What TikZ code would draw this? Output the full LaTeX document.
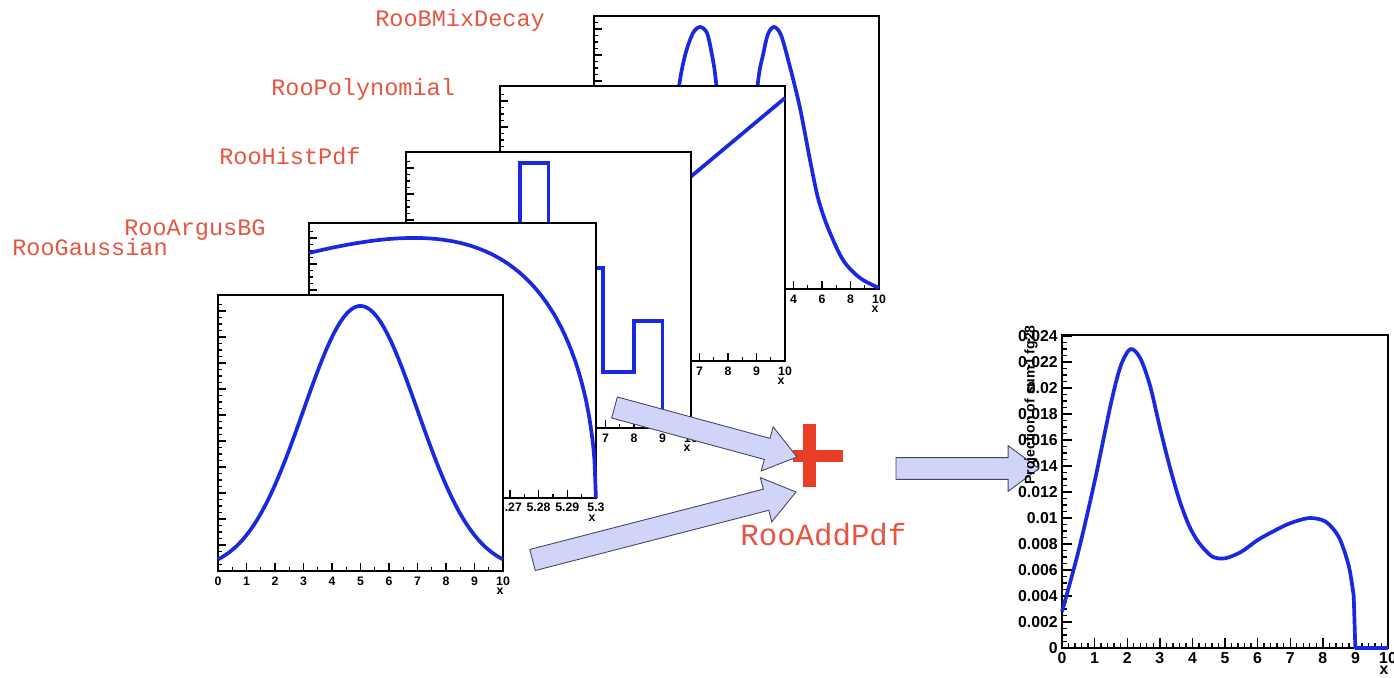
\documentclass[tikz,border=0pt]{standalone}
\usepackage{fontspec}
\setmainfont{Liberation Sans}
\newfontfamily\roofont{Liberation Mono}
\usetikzlibrary{calc, positioning}

\definecolor{roored}{RGB}{230,85,65}
\definecolor{plusred}{RGB}{232,62,38}
\definecolor{curveblue}{RGB}{25,40,225}
\definecolor{arrowfill}{RGB}{208,212,248}
\definecolor{arrowline}{RGB}{70,70,95}

\tikzset{
  frame/.style={line width=0.8pt, black},
  curve/.style={line width=2.1pt, curveblue, line join=round},
  pdfname/.style={font=\roofont\fontsize{13.4}{15}\selectfont, text=roored, inner sep=0pt, anchor=base west},
  ticklbl/.style={font=\bfseries\fontsize{7}{8}\selectfont, inner sep=0pt, anchor=north},
  axlbl/.style={font=\bfseries\fontsize{9}{10}\selectfont, inner sep=0pt},
  bigarrow/.style={fill=arrowfill, draw=arrowline, line width=0.5pt},
}

% white canvas, frame and ticks of one stacked plot
\newcommand\rooframe[4]{%
  \fill[white] (#1,#2) rectangle (#3,#4);
  \draw[frame] (#1,#2) rectangle (#3,#4);
  \foreach \k in {0,...,41} \draw[frame] (#1,{#4-6.5*\k}) -- ++(4,0);
  \foreach \k in {0,...,10} \draw[frame] (#1,{#4-26*\k}) -- ++(8,0);
  \foreach \k in {0,...,20} \draw[frame] ({#1+\k*(#3-#1)/20},#4) -- ++(0,-4);
  \foreach \k in {0,...,10} \draw[frame] ({#1+\k*(#3-#1)/10},#4) -- ++(0,-8);
}

% fat arrow from #1 to #2
\newcommand\blockarrow[2]{%
  \coordinate (neck) at ($(#2)!17.6pt!(#1)$);
  \filldraw[bigarrow] ($(#1)!6.2pt!90:(#2)$) -- ($(neck)!6.2pt!90:(#2)$)
    -- ($(neck)!13pt!90:(#2)$) -- (#2) -- ($(neck)!13pt!-90:(#2)$)
    -- ($(neck)!6.2pt!-90:(#2)$) -- ($(#1)!6.2pt!-90:(#2)$) -- cycle;
}

\begin{document}
\begin{tikzpicture}[x=0.02cm, y=-0.02cm,
  declare function={argu(\m)=max((10-\m)*(10.5+\m/100)/2809,0);}]
\useasboundingbox (0,0) rectangle (1394,678);

%RooBMixDecay
\rooframe{594}{16}{879}{289}
\draw[curve] plot[smooth] coordinates {(594,287) (625,282) (648,262) (662,215)
  (672,140) (680,80) (686,52) (693,33) (700,27) (707,33) (712,55) (716,82)
  (724,170) (737,230) (750,170) (758,82) (763,55) (768,34) (774,27) (781,35)
  (790,67) (800,108) (810,160) (818,198) (828,228) (843,260) (860,278) (879,288)};
\foreach \v [count=\k from 0] in {-10,-8,...,10}
  \node[ticklbl] (a\k) at (594+28.5*\k,295) {\v};
\node[ticklbl] (ax) at (875,306) {x};

%RooPolynomial
\rooframe{500}{86}{785}{361}
\draw[curve] (500,336) -- (785,98);
\foreach \v in {0,...,10}
  \node[ticklbl] (b\v) at (500+28.5*\v,367) {\v};
\node[ticklbl] (bx) at (781,378) {x};

%RooHistPdf
\rooframe{406}{152}{691}{428}
\draw[curve, line join=miter] (406,428) |- (434.5,400) |- (463,370) |- (491.5,330)
  |- (520,280) |- (548.5,163) |- (577,300) |- (603,268) |- (634,372)
  |- (662.5,321) |- (691,428);
\foreach \v in {0,...,10}
  \node[ticklbl] (c\v) at (406+28.5*\v,434) {\v};
\node[ticklbl] (cx) at (687,445) {x};

%RooArgusBG
\rooframe{309}{223}{596}{498}
\begin{scope}[shift={(309,498)}, x=0.574cm, y=0.02cm]
  \draw[curve] plot[domain=0:10, samples=200]
    (\x, {524.3*(5.2+\x/100)*sqrt(argu(\x))*exp(-20.5*argu(\x))});
\end{scope}
\foreach \v [count=\k from 0] in {5.2,5.21,5.22,5.23,5.24,5.25,5.26,5.27,5.28,5.29,5.3}
  \node[ticklbl] (d\k) at (309+28.7*\k,503) {\v};
\node[ticklbl] (dx) at (592,515) {x};

%RooGaussian
\rooframe{218}{295}{503}{571}
\begin{scope}[shift={(218,571)}, x=0.57cm, y=0.02cm]
  \draw[curve] plot[domain=0:10, samples=80] (\x,{265*exp(-(\x-5)^2/8)});
\end{scope}
\foreach \v in {0,...,10}
  \node[ticklbl] (e\v) at (218+28.5*\v,577) {\v};
\node[ticklbl] (ex) at (500,588) {x};

%names
\node[pdfname] (lblbmix) at (375,27) {RooBMixDecay};
\node[pdfname] (lblpoly) at (271,96) {RooPolynomial};
\node[pdfname] (lblhist) at (219,165) {RooHistPdf};
\node[pdfname] (lblargus) at (124,236) {RooArgusBG};
\node[pdfname] (lblgauss) at (12,256) {RooGaussian};

%sum
\coordinate (sum) at (809.5,456);
\fill[plusred] ($(sum)+(-6.5,-32)$) rectangle ($(sum)+(6.5,31)$);
\fill[plusred] ($(sum)+(-17,-6)$) rectangle ($(sum)+(33.5,6)$);
\node[pdfname, font=\roofont\fontsize{17.5}{20}\selectfont] (lbladd) at (740,546) {RooAddPdf};

\coordinate (histout) at (614.5,407.5);
\coordinate (gaussout) at (532.5,560);
\coordinate (sumin1) at (797,457);
\coordinate (sumin2) at (796,492);
\coordinate (sumout) at (896,468.5);
\coordinate (resin) at (1039,468.5);
\blockarrow{histout}{sumin1}
\blockarrow{gaussout}{sumin2}

%result
\draw[frame] (1062,335) rectangle (1388,648);
\foreach \k in {0,...,48} \draw[frame] (1062,{648-6.5*\k}) -- ++(5,0);
\foreach \k in {0,...,12} \draw[frame] (1062,{648-26*\k}) -- ++(10,0);
\foreach \k in {0,...,50} \draw[frame] ({1062+6.52*\k},648) -- ++(0,-5);
\foreach \k in {0,...,10} \draw[frame] ({1062+32.6*\k},648) -- ++(0,-10);
\foreach \k/\t in {0/0, 1/0.002, 2/0.004, 3/0.006, 4/0.008, 5/0.01, 6/0.012,
    7/0.014, 8/0.016, 9/0.018, 10/0.02, 11/0.022, 12/0.024}
  \node[axlbl, anchor=east] (ry\k) at (1058,648-26*\k) {\t};
\foreach \v in {0,...,10}
  \node[axlbl, anchor=north] (rx\v) at (1062+32.6*\v,652) {\v};
\node[axlbl, anchor=north] (rxx) at (1384,666) {x};
\begin{scope}[shift={(1062,648)}, x=0.652cm, y=0.26cm]
  \draw[curve] plot[smooth] coordinates {(0,2.8) (0.5,7.4) (1,12.8) (1.5,18.8)
    (1.8,21.7) (2.1,23) (2.4,22.3) (2.7,20.2) (3,17) (3.3,14) (3.6,11.4) (3.9,9.4)
    (4.2,8.1) (4.6,7.05) (5,6.9) (5.5,7.4) (6,8.3) (6.5,9) (7,9.6) (7.6,10)
    (8.1,9.7) (8.5,8.5) (8.8,6.3) (8.95,4)} -- (9,0) -- (10,0);
\end{scope}

\blockarrow{sumout}{resin}
\node[axlbl, rotate=90, font=\bfseries\fontsize{8}{9}\selectfont] (rytitle) at (1031,405) {Projection of sum1 fg28};
\end{tikzpicture}
\end{document}
